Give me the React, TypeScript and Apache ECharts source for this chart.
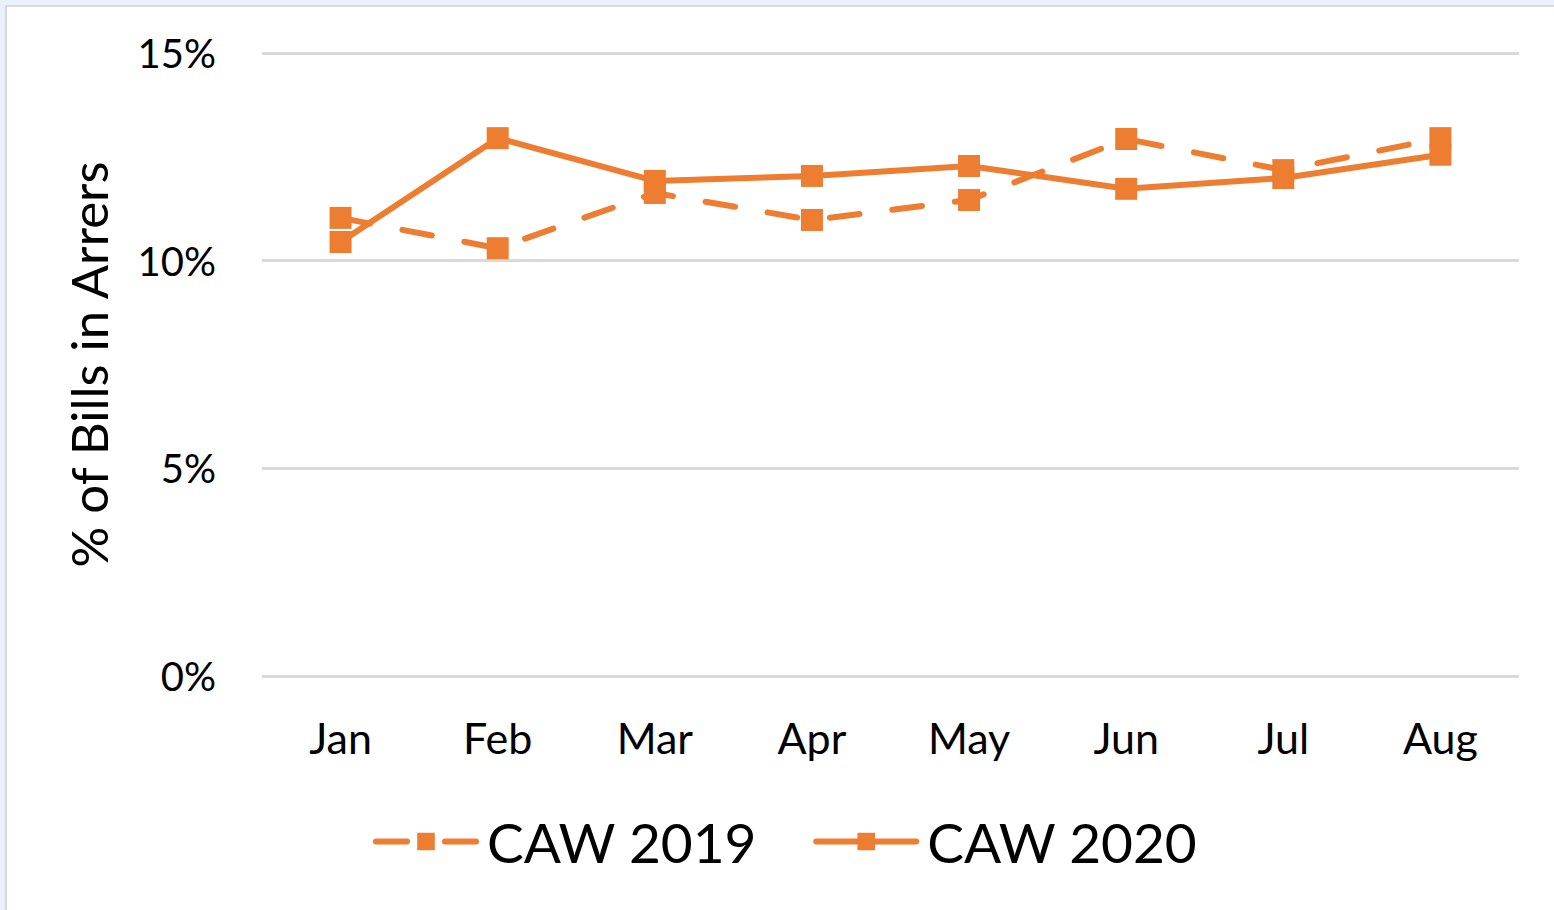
import React, { useEffect, useRef } from "react";
import * as echarts from "echarts";

const months = ["Jan", "Feb", "Mar", "Apr", "May", "Jun", "Jul", "Aug"];
const caw2019 = [11.03, 10.3, 11.63, 10.98, 11.46, 12.93, 12.18, 12.95];
const caw2020 = [10.45, 12.95, 11.92, 12.04, 12.28, 11.73, 11.99, 12.55];
const yTicks = [0, 5, 10, 15];

const ORANGE = "#ED7D31";
const FONT = "Lato, 'Open Sans', sans-serif";

export default function App() {
  const ref = useRef<HTMLDivElement>(null);
  useEffect(() => {
    document.body.style.margin = "0";
    if (!ref.current) return;
    const chart = echarts.init(ref.current, null, { renderer: "svg" });
    chart.setOption({
      animation: false,
      backgroundColor: "#eaf1fa",
      graphic: [
        {
          type: "rect",
          shape: { x: 6, y: 6, width: 1600, height: 1000 },
          style: { fill: "#ffffff", stroke: "#d9d9d9", lineWidth: 2 },
          z: -10,
        },
      ],
      grid: { left: 262, right: 35, top: 53, bottom: 234 },
      xAxis: {
        type: "category",
        data: months,
        boundaryGap: true,
        axisLine: { show: false },
        axisTick: { show: false },
        axisLabel: {
          color: "#000",
          fontFamily: FONT,
          fontSize: 43,
          margin: 40,
        },
      },
      yAxis: {
        type: "value",
        min: yTicks[0],
        max: yTicks[yTicks.length - 1],
        interval: 5,
        name: "% of Bills in Arrers",
        nameLocation: "middle",
        nameGap: 148,
        nameTextStyle: { color: "#000", fontFamily: FONT, fontSize: 51 },
        axisLine: { show: false },
        axisTick: { show: false },
        splitLine: { lineStyle: { color: "#d9d9d9", width: 3 } },
        axisLabel: {
          color: "#000",
          fontFamily: FONT,
          fontSize: 40,
          margin: 46,
          formatter: (v: number) => v + "%",
        },
      },
      legend: {
        bottom: 36,
        left: 368,
        itemWidth: 100,
        itemHeight: 22,
        itemGap: 56,
        textStyle: { color: "#000", fontFamily: FONT, fontSize: 55, padding: [0, 0, 0, 6] },
        lineStyle: { width: 6, cap: "round" },
        data: [
          { name: "CAW 2019", lineStyle: { width: 6, type: [31, 38], cap: "round" } },
          { name: "CAW 2020", lineStyle: { width: 6, type: "solid", cap: "round" } },
        ],
      },
      series: [
        {
          name: "CAW 2019",
          type: "line",
          data: caw2019,
          symbol: "rect",
          symbolSize: 22,
          itemStyle: { color: ORANGE },
          lineStyle: { color: ORANGE, width: 6, type: [30, 33], cap: "round" },
        },
        {
          name: "CAW 2020",
          type: "line",
          data: caw2020,
          symbol: "rect",
          symbolSize: 22,
          itemStyle: { color: ORANGE },
          lineStyle: { color: ORANGE, width: 6, type: "solid", cap: "round" },
        },
      ],
    });
    return () => chart.dispose();
  }, []);
  return <div ref={ref} style={{ width: 1554, height: 910 }} />;
}
